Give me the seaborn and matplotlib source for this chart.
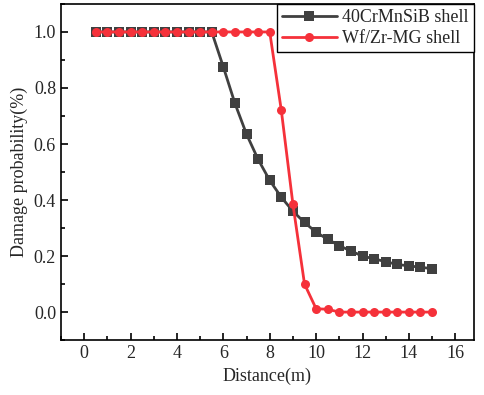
import numpy as np
import pandas as pd
import matplotlib
matplotlib.use("Agg")
import matplotlib.pyplot as plt
from matplotlib.ticker import MultipleLocator
import seaborn as sns

# Data
distance = [0.5, 1.0, 1.5, 2.0, 2.5, 3.0, 3.5, 4.0, 4.5, 5.0, 5.5, 6.0, 6.5, 7.0, 7.5,
            8.0, 8.5, 9.0, 9.5, 10.0, 10.5, 11.0, 11.5, 12.0, 12.5, 13.0, 13.5, 14.0, 14.5, 15.0]
steel = [1.0, 1.0, 1.0, 1.0, 1.0, 1.0, 1.0, 1.0, 1.0, 1.0, 1.0, 0.875, 0.745, 0.635, 0.545,
         0.47, 0.41, 0.36, 0.32, 0.285, 0.26, 0.237, 0.218, 0.20, 0.19, 0.18, 0.17, 0.165, 0.16, 0.155]
wfzr = [1.0, 1.0, 1.0, 1.0, 1.0, 1.0, 1.0, 1.0, 1.0, 1.0, 1.0, 1.0, 1.0, 1.0, 1.0,
        1.0, 0.72, 0.385, 0.10, 0.012, 0.01, 0.0, 0.0, 0.0, 0.0, 0.0, 0.0, 0.0, 0.0, 0.0]
labels = ["40CrMnSiB shell", "Wf/Zr-MG shell"]

df = pd.DataFrame({"Distance": distance * 2,
                   "Prob": steel + wfzr,
                   "Shell": [labels[0]] * len(distance) + [labels[1]] * len(distance)})

sns.set_style("ticks")
plt.rcParams["font.family"] = ["Liberation Serif", "DejaVu Serif"]
plt.rcParams["xtick.direction"] = "in"
plt.rcParams["ytick.direction"] = "in"

fig = plt.figure(figsize=(4.84, 3.95), dpi=100)
ax = fig.add_axes([0.126, 0.139, 0.853, 0.851])

sns.lineplot(data=df, x="Distance", y="Prob", hue="Shell", style="Shell",
             palette=["#404040", "#f5313a"], markers=["s", "o"], dashes=False,
             markersize=6.5, markeredgewidth=0, linewidth=2, ax=ax)

ax.set_xlim(-1, 16.8)
ax.set_ylim(-0.1, 1.1)
ax.xaxis.set_major_locator(MultipleLocator(2))
ax.xaxis.set_minor_locator(MultipleLocator(1))
ax.yaxis.set_major_locator(MultipleLocator(0.2))
ax.yaxis.set_minor_locator(MultipleLocator(0.1))
ax.yaxis.set_major_formatter(matplotlib.ticker.FormatStrFormatter("%.1f"))
ax.tick_params(which="major", length=5, width=1.2, labelsize=13, color="black")
ax.tick_params(which="minor", length=3, width=1.2, color="black")
for s in ax.spines.values():
    s.set_linewidth(1.2)
    s.set_color("black")

ax.set_xlabel("Distance(m)", fontsize=13)
ax.set_ylabel("Damage probability(%)", fontsize=13)

leg = ax.legend(loc="upper right", fontsize=13, frameon=True, fancybox=False,
                edgecolor="black", framealpha=1, borderaxespad=0,
                handlelength=3, borderpad=0.3, labelspacing=0.2, handletextpad=0.3)
leg.get_frame().set_linewidth(1.0)

fig.savefig("out.png", dpi=100)
